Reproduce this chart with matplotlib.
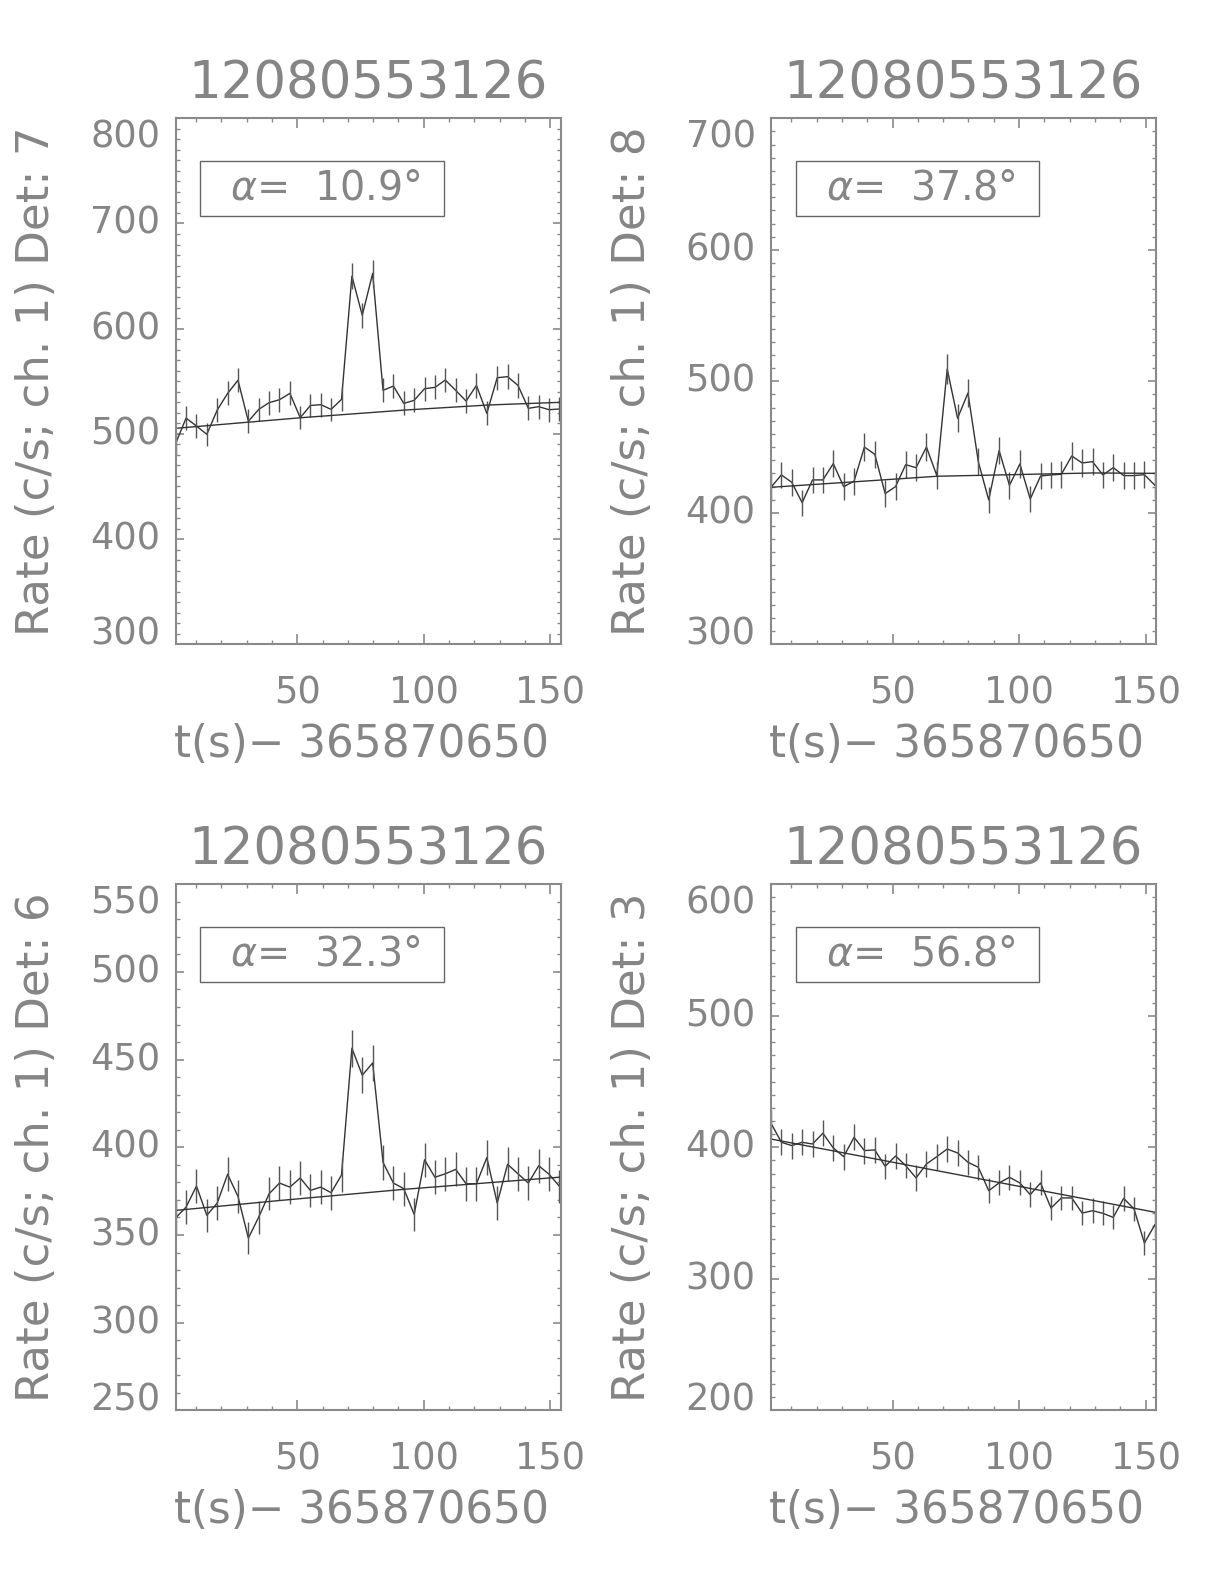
import matplotlib
matplotlib.use("Agg")
import matplotlib.pyplot as plt
from matplotlib.patches import Rectangle
from matplotlib.ticker import MultipleLocator

# ---------------- data ----------------
times = [2.0, 6.1, 10.2, 14.3, 18.4, 22.5, 26.6, 30.7, 34.8, 38.9,
         43.0, 47.1, 51.2, 55.2, 59.3, 63.4, 67.5, 71.6, 75.7, 79.8,
         83.9, 88.0, 92.1, 96.2, 100.3, 104.4, 108.5, 112.6, 116.7, 120.8,
         124.9, 129.0, 133.1, 137.2, 141.3, 145.4, 149.5, 153.6]

title_text = "12080553126"
xlabel_text = "t(s)\u2212 365870650"
detectors = ["7", "8", "6", "3"]
angles = ["10.9", "37.8", "32.3", "56.8"]

rate_det7 = [491, 515, 507.5, 499.6, 522.7, 538.5, 551, 512, 523.3, 529.7,
             532.5, 538.5, 515.4, 527, 527.8, 523.3, 532.8, 650, 612.7, 652.6,
             541.4, 545.5, 529, 531.9, 543, 544.2, 551.2, 541.4, 531.2, 546.1,
             519.5, 553.4, 554.4, 546.1, 524.3, 525.9, 523, 523.7]
err_det7 = [10.9, 11.2, 11.1, 11.0, 11.3, 11.5, 11.6, 11.2, 11.3, 11.4,
            11.4, 11.5, 11.2, 11.3, 11.4, 11.3, 11.4, 12.6, 12.2, 12.6,
            11.5, 11.5, 11.4, 11.4, 11.5, 11.5, 11.6, 11.5, 11.4, 11.5,
            11.3, 11.6, 11.6, 11.5, 11.3, 11.3, 11.3, 11.3]
bg_t_det7 = [2, 51.6, 92.7, 125.7, 154]
bg_v_det7 = [505.3, 515.4, 522.7, 527.5, 530]

rate_det8 = [419.4, 428.8, 423.2, 407.7, 425, 425, 437.4, 419.9, 424, 450,
             444.5, 414.6, 419.9, 436.6, 434.3, 450, 428.3, 509.4, 471.9, 491.1,
             438.7, 409.8, 447.3, 420.9, 437.1, 410.5, 428, 428.8, 429.3, 443.2,
             437.9, 438.9, 428.8, 434.3, 428.3, 428.3, 429, 421]
err_det8 = [10.1, 10.2, 10.2, 10.0, 10.2, 10.2, 10.3, 10.1, 10.2, 10.5,
            10.4, 10.1, 10.1, 10.3, 10.3, 10.5, 10.2, 11.2, 10.7, 11.0,
            10.3, 10.0, 10.4, 10.1, 10.3, 10.0, 10.2, 10.2, 10.2, 10.4,
            10.3, 10.4, 10.2, 10.3, 10.2, 10.2, 10.2, 10.1]
bg_t_det8 = [2, 30.5, 67.8, 129.2, 154]
bg_v_det8 = [419.4, 423, 427.8, 430.3, 430]

rate_det6 = [359.8, 365.9, 377.9, 361.2, 368.2, 384.6, 372, 348.2, 360.2, 373.5,
             379.6, 377.3, 382.5, 375.4, 377.3, 374.1, 384.2, 456.5, 441.1, 448.1,
             391.4, 379.6, 376.4, 361.7, 392.9, 382.9, 384.9, 387.4, 379.2, 379.2,
             394.1, 368.2, 390.3, 384.9, 379.6, 389.5, 384.6, 377.7]
err_det6 = [9.4, 9.5, 9.6, 9.4, 9.5, 9.7, 9.5, 9.2, 9.4, 9.5,
            9.6, 9.6, 9.7, 9.6, 9.6, 9.6, 9.7, 10.6, 10.4, 10.5,
            9.8, 9.6, 9.6, 9.4, 9.8, 9.7, 9.7, 9.7, 9.6, 9.6,
            9.8, 9.5, 9.8, 9.7, 9.6, 9.8, 9.7, 9.6]
bg_t_det6 = [2, 43.4, 92, 154]
bg_v_det6 = [364, 369.7, 376, 383]

rate_det3 = [418.3, 403.8, 401.3, 403.8, 402.5, 410.7, 399.5, 392.9, 407.6, 397.5,
             398, 385.5, 393.4, 386.1, 376.7, 387.3, 392.9, 398.7, 395.7, 388.6,
             384.8, 367, 372.9, 377.2, 372.9, 364, 372.9, 353.8, 361.5, 361.5,
             350, 351.8, 349.8, 346.7, 361.2, 353.1, 327.2, 341]
err_det3 = [10.1, 9.9, 9.9, 9.9, 9.9, 10.0, 9.9, 9.8, 10.0, 9.9,
            9.9, 9.7, 9.8, 9.7, 9.6, 9.7, 9.8, 9.9, 9.8, 9.7,
            9.7, 9.5, 9.5, 9.6, 9.5, 9.4, 9.5, 9.3, 9.4, 9.4,
            9.2, 9.3, 9.2, 9.2, 9.4, 9.3, 8.9, 9.1]
bg_t_det3 = [2, 154]
bg_v_det3 = [406.3, 350.5]

ylims = [(300, 800), (300, 700), (250, 550), (200, 600)]
ymajor = [100, 100, 50, 100]

# ---------------- style ----------------
plt.rcParams["font.family"] = ["DejaVu Sans"]
plt.rcParams["mathtext.fontset"] = "custom"
plt.rcParams["mathtext.it"] = "DejaVu Sans:italic"
plt.rcParams["mathtext.rm"] = "DejaVu Sans"
TXT = "#858585"
AX = "#8a8a8a"
LN = "#333333"

fig = plt.figure(figsize=(12.24, 15.84), dpi=100)
W, H = 1224, 1584
positions = [(175.7, 118.3), (771.0, 118.3), (175.7, 884.3), (771.0, 884.3)]
aw, ah = 384.8, 526.0

panels = [
    (rate_det7, err_det7, bg_t_det7, bg_v_det7),
    (rate_det8, err_det8, bg_t_det8, bg_v_det8),
    (rate_det6, err_det6, bg_t_det6, bg_v_det6),
    (rate_det3, err_det3, bg_t_det3, bg_v_det3),
]

for i, (rate, err, bgt, bgv) in enumerate(panels):
    x0, ytop = positions[i]
    ax = fig.add_axes([x0 / W, 1 - (ytop + ah) / H, aw / W, ah / H])
    ax.plot(times, rate, color=LN, lw=1.0)
    ax.vlines(times, [r - e for r, e in zip(rate, err)],
              [r + e for r, e in zip(rate, err)], color="#555555", lw=1.0)
    ax.plot(bgt, bgv, color=LN, lw=1.0)
    ax.set_xlim(2, 154)
    ax.set_ylim(*ylims[i])
    ax.xaxis.set_major_locator(MultipleLocator(50))
    ax.xaxis.set_minor_locator(MultipleLocator(10))
    ax.yaxis.set_major_locator(MultipleLocator(ymajor[i]))
    ax.yaxis.set_minor_locator(MultipleLocator(10))
    for s in ax.spines.values():
        s.set_color(AX)
        s.set_linewidth(1.5)
    ax.tick_params(which="both", direction="in", top=True, right=True,
                   color=AX, labelcolor=TXT, labelsize=26.5)
    ax.tick_params(axis="x", which="major", length=7.2, width=1.2, pad=21.5)
    ax.tick_params(axis="x", which="minor", length=3.2, width=1.0)
    ax.tick_params(axis="y", which="major", length=6.0, width=1.2, pad=11)
    ax.tick_params(axis="y", which="minor", length=3.0, width=1.0)
    ax.set_xticks([50, 100, 150])
    lo, hi = ylims[i]
    yt = list(range(lo, hi + 1, ymajor[i]))
    ax.set_yticks(yt)
    ax.set_yticklabels([str(v) for v in yt])
    ticks = ax.yaxis.get_major_ticks()
    for t in ticks:
        t.label1.set_va("center")
    ticks[0].label1.set_va("baseline")
    ticks[-1].label1.set_va("top")

    # title, labels
    ax.text(0.5, 1.038, title_text, transform=ax.transAxes, ha="center",
            va="baseline", fontsize=37, color=TXT)
    ax.text(0.482, -0.19, xlabel_text, transform=ax.transAxes, ha="center",
            va="center", fontsize=31.5, color=TXT)
    ax.text(-0.361, 0.5, "Rate (c/s; ch. 1) Det: " + detectors[i],
            transform=ax.transAxes, ha="center", va="center", rotation=90,
            fontsize=32.5, color=TXT)

    # alpha box
    ax.add_patch(Rectangle((0.064, 0.815), 0.633, 0.104, transform=ax.transAxes,
                           fill=False, edgecolor="#666666", lw=1.0))
    ax.text(0.39, 0.867, r"$\alpha$=  " + angles[i] + "\u00b0",
            transform=ax.transAxes, ha="center", va="center",
            fontsize=28.5, color=TXT)

fig.savefig("out.png", dpi=100, facecolor="white")
